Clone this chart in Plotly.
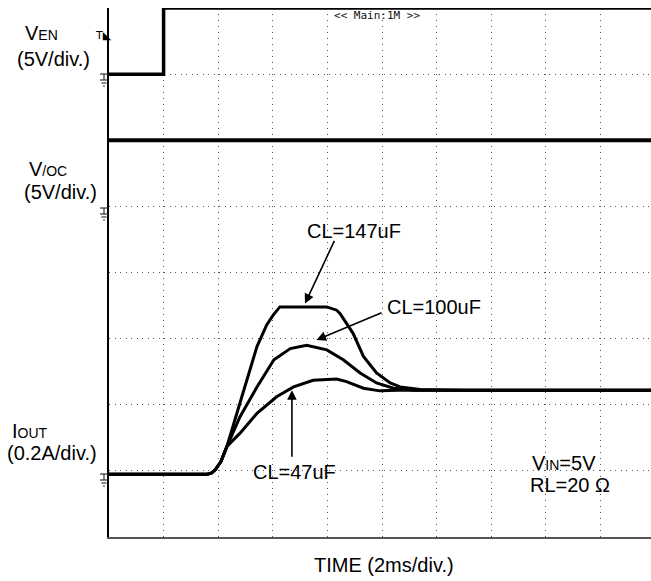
import plotly.graph_objects as go

# time axis in divisions (2 ms/div), signals in screen divisions
ven_t = [0, 1.0, 1.0, 9.93]
ven_v = [7.0, 7.0, 8.0, 8.0]

voc_t = [0, 9.93]
voc_v = [6.0, 6.0]

t_147 = [0, 1.80, 1.88, 1.95, 2.05, 2.16, 2.40, 2.71, 2.89, 3.01, 3.13, 3.99, 4.17, 4.23,
         4.47, 4.66, 4.90, 5.15, 5.33, 5.70, 6.50, 9.93]
i_147 = [0.95, 0.95, 0.97, 1.02, 1.14, 1.37, 2.03, 2.88, 3.21, 3.36, 3.48, 3.48, 3.43, 3.38,
         3.08, 2.73, 2.48, 2.33, 2.27, 2.23, 2.22, 2.22]

t_100 = [0, 1.80, 1.88, 1.95, 2.05, 2.16, 2.40, 2.71, 3.02, 3.32, 3.62, 3.99, 4.29, 4.60,
         4.90, 5.21, 5.60, 9.93]
i_100 = [0.95, 0.95, 0.97, 1.02, 1.14, 1.37, 1.82, 2.27, 2.68, 2.85, 2.90, 2.83, 2.68, 2.48,
         2.33, 2.25, 2.22, 2.22]

t_47 = [0, 1.80, 1.88, 1.95, 2.05, 2.16, 2.40, 2.71, 3.07, 3.38, 3.74, 4.17, 4.35, 4.66,
        4.96, 5.30, 9.93]
i_47 = [0.95, 0.95, 0.97, 1.02, 1.14, 1.37, 1.57, 1.87, 2.12, 2.27, 2.37, 2.39, 2.35, 2.25,
        2.21, 2.22, 2.22]

FONT = "Liberation Sans, Arial, Helvetica, sans-serif"

# plot area in page pixels: x 109..651, y 8..537
def px(x):
    return (x - 109) / 542

def py(y):
    return (537 - y) / 529

def P(x, y):
    return dict(x=px(x), y=py(y), xref="paper", yref="paper")

def sc(s):
    return "<span style='font-size:14px'>" + s + "</span>"

fig = go.Figure()
for t, v, w in [(ven_t, ven_v, 3.5), (voc_t, voc_v, 4), (t_147, i_147, 3), (t_100, i_100, 3), (t_47, i_47, 3)]:
    fig.add_trace(go.Scatter(x=t, y=v, mode="lines", line=dict(color="black", width=w),
                             showlegend=False, hoverinfo="skip"))

ann = []
# left channel labels
for txt, x, y in [("V" + sc("EN"), 23, 33), ("(5V/div.)", 15, 59),
                  ("V" + sc("/OC"), 27, 169), ("(5V/div.)", 22, 192),
                  ("I" + sc("OUT"), 10, 431), ("(0.2A/div.)", 5, 453),
                  ("V" + sc("IN") + "=5V", 530, 463), ("RL=20 Ω", 528, 485)]:
    ann.append(dict(text=txt, xanchor="left", yanchor="middle", showarrow=False,
                    font=dict(family=FONT, size=20, color="black"), **P(x, y)))

for txt, x, y in [("CL=147uF", 354, 231), ("CL=100uF", 434, 307), ("CL=47uF", 294, 472),
                  ("TIME (2ms/div.)", 384, 565)]:
    ann.append(dict(text=txt, xanchor="center", yanchor="middle", showarrow=False,
                    font=dict(family=FONT, size=20, color="black"), **P(x, y)))

# arrows pointing at the curves
for x, y, ax, ay in [(3.59, 3.53, 4.14, 4.50), (3.80, 2.98, 5.02, 3.40), (3.35, 2.22, 3.35, 1.19)]:
    ann.append(dict(x=x, y=y, ax=ax, ay=ay, xref="x", yref="y", axref="x", ayref="y",
                    text="", showarrow=True, arrowhead=2, arrowsize=1.2, arrowwidth=1.6,
                    arrowcolor="black"))

# scope markers
ann.append(dict(text="T◣", xanchor="center", yanchor="middle", showarrow=False,
                font=dict(family="DejaVu Sans", size=11, color="black"), **P(103, 36)))
ann.append(dict(text="<< Main:1M >>", xanchor="center", yanchor="middle", showarrow=False,
                font=dict(family="DejaVu Sans Mono", size=11, color="#111"), **P(377, 15)))

# ground symbols next to each channel
shapes = []
for y0 in [74, 208, 474]:
    for x0, x1, ya, yb in [(100, 108, y0, y0), (104, 104, y0, y0 + 6), (100, 108, y0 + 6, y0 + 6),
                           (101.5, 106.5, y0 + 9, y0 + 9), (103, 105, y0 + 12, y0 + 12)]:
        shapes.append(dict(type="line", xref="paper", yref="paper",
                           x0=px(x0), x1=px(x1), y0=py(ya), y1=py(yb),
                           line=dict(color="#333", width=1.2)))

fig.update_layout(
    width=651, height=581,
    margin=dict(l=109, r=0, t=8, b=44),
    paper_bgcolor="white", plot_bgcolor="white",
    annotations=ann, shapes=shapes,
    xaxis=dict(range=[0, 542 / 54.6], dtick=1, tick0=0, showticklabels=False, ticks="",
               showgrid=True, gridcolor="#555", gridwidth=1.2, griddash="1px,5px",
               zeroline=False, showline=True, linecolor="#555", linewidth=2),
    yaxis=dict(range=[0, 8], dtick=1, tick0=0, showticklabels=False, ticks="",
               showgrid=True, gridcolor="#555", gridwidth=1.2, griddash="1px,4.5px",
               zeroline=False, showline=True, linecolor="black", linewidth=1.5),
)

fig.write_html("out.html", config={"displayModeBar": False},
               post_script="document.body.style.margin='0';"
                           "document.documentElement.style.overflow='hidden';"
                           "document.body.style.overflow='hidden';")
